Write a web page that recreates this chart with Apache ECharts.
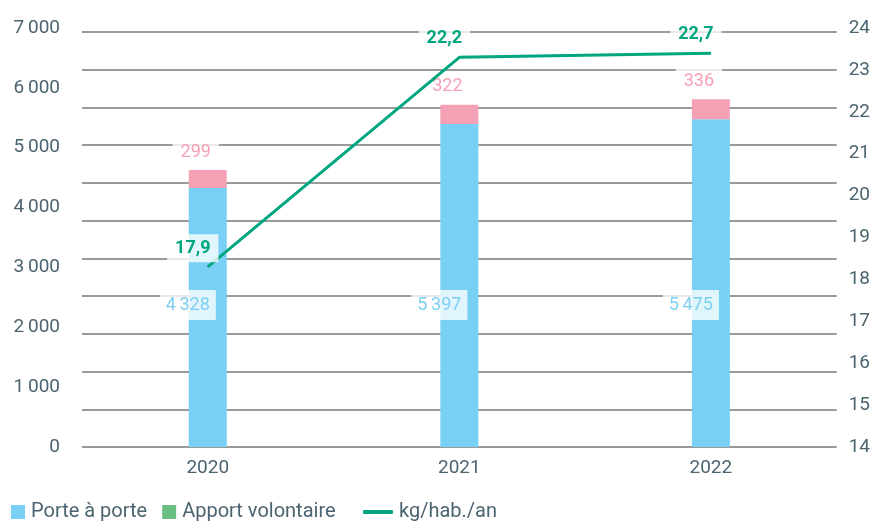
<!DOCTYPE html>
<html>
<head>
<meta charset="utf-8">
<script src="https://cdn.jsdelivr.net/npm/echarts@6/dist/echarts.min.js"></script>
<style>
  html, body { margin: 0; padding: 0; background: #fff; }
  #main { width: 873px; height: 521px; }
</style>
</head>
<body>
<div id="main"></div>
<script>
var years = ['2020', '2021', '2022'];
var porteAPorte = [4328, 5397, 5475];
var apportVolontaire = [299, 322, 336];
// line as drawn in the source (right axis) and the values printed on it
var kgHab = [18.3, 23.3, 23.4];
var kgHabLabels = ['17,9', '22,2', '22,7'];

var textColor = '#4b6470';
var gridColor = '#9a9a9a';
var fontFamily = 'Roboto, "DejaVu Sans", sans-serif';

// thousands with a thin space, as in the source
function spaced(v) {
  return String(v).replace(/\B(?=(\d{3})+(?!\d))/g, '\u2009');
}

var chartDom = document.getElementById('main');
var myChart = echarts.init(chartDom);
var option;

option = {
  animation: false,
  textStyle: { fontFamily: fontFamily },
  grid: { left: 82, right: 36, top: 28, bottom: 74 },
  legend: [
    {
      data: [
        { name: 'Porte à porte' },
        { name: 'Apport volontaire', itemStyle: { color: '#6cbf84' } }
      ],
      left: 6,
      top: 497,
      itemWidth: 14,
      itemHeight: 14,
      itemGap: 15,
      icon: 'rect',
      textStyle: { color: textColor, fontSize: 20, padding: [0, 0, 0, 1] }
    },
    {
      data: ['kg/hab./an'],
      left: 358,
      top: 497,
      itemWidth: 30,
      itemHeight: 4,
      icon: 'roundRect',
      itemStyle: { color: '#00a67f' },
      textStyle: { color: textColor, fontSize: 20, padding: [0, 0, 0, 1] }
    }
  ],
  xAxis: {
    type: 'category',
    data: years,
    axisLine: { show: false },
    axisTick: { show: false },
    axisLabel: { color: textColor, fontSize: 19, margin: 12 }
  },
  yAxis: [
    {
      type: 'value',
      min: 0,
      max: 7000,
      interval: 1000,
      splitLine: { show: false },
      axisLine: { show: false },
      axisTick: { show: false },
      axisLabel: { color: textColor, fontSize: 19, margin: 22, formatter: spaced }
    },
    {
      type: 'value',
      min: 14,
      max: 24,
      interval: 1,
      splitLine: { show: false },
      axisLine: { show: false },
      axisTick: { show: false },
      axisLabel: { color: textColor, fontSize: 19, margin: 12 }
    },
    {
      // gridlines only
      type: 'value',
      min: 0,
      max: 11.1,
      interval: 1,
      axisLine: { show: false },
      axisTick: { show: false },
      axisLabel: { show: false },
      splitLine: { show: true, showMaxLine: false, lineStyle: { color: gridColor, width: 2 } }
    }
  ],
  series: [
    {
      name: 'Porte à porte',
      type: 'bar',
      stack: 'total',
      barWidth: 38,
      itemStyle: { color: '#78d0f5' },
      label: {
        show: true,
        position: 'insideBottom',
        distance: 127,
        offset: [-20, 0],
        color: '#7dcff2',
        fontSize: 18,
        backgroundColor: 'rgba(255,255,255,0.78)',
        padding: [6, 6],
        formatter: function (p) { return spaced(p.value); }
      },
      data: porteAPorte
    },
    {
      name: 'Apport volontaire',
      type: 'bar',
      stack: 'total',
      barWidth: 38,
      itemStyle: { color: '#f4a1b6' },
      label: {
        show: true,
        position: 'top',
        distance: 4,
        offset: [-12, 0],
        color: '#f4a1b6',
        fontSize: 18,
        backgroundColor: 'rgba(255,255,255,0.78)',
        padding: [5, 8]
      },
      data: apportVolontaire
    },
    {
      name: 'kg/hab./an',
      type: 'line',
      yAxisIndex: 1,
      symbol: 'circle',
      symbolSize: 1,
      lineStyle: { color: '#00a67f', width: 3 },
      itemStyle: { color: '#00a67f' },
      label: {
        show: true,
        position: 'top',
        distance: 4,
        offset: [-15, 0],
        color: '#00a67f',
        fontSize: 18,
        fontWeight: 'bold',
        backgroundColor: 'rgba(255,255,255,0.78)',
        padding: [5, 8],
        formatter: function (p) { return kgHabLabels[p.dataIndex]; }
      },
      data: kgHab
    }
  ]
};

option && myChart.setOption(option);
</script>
</body>
</html>
